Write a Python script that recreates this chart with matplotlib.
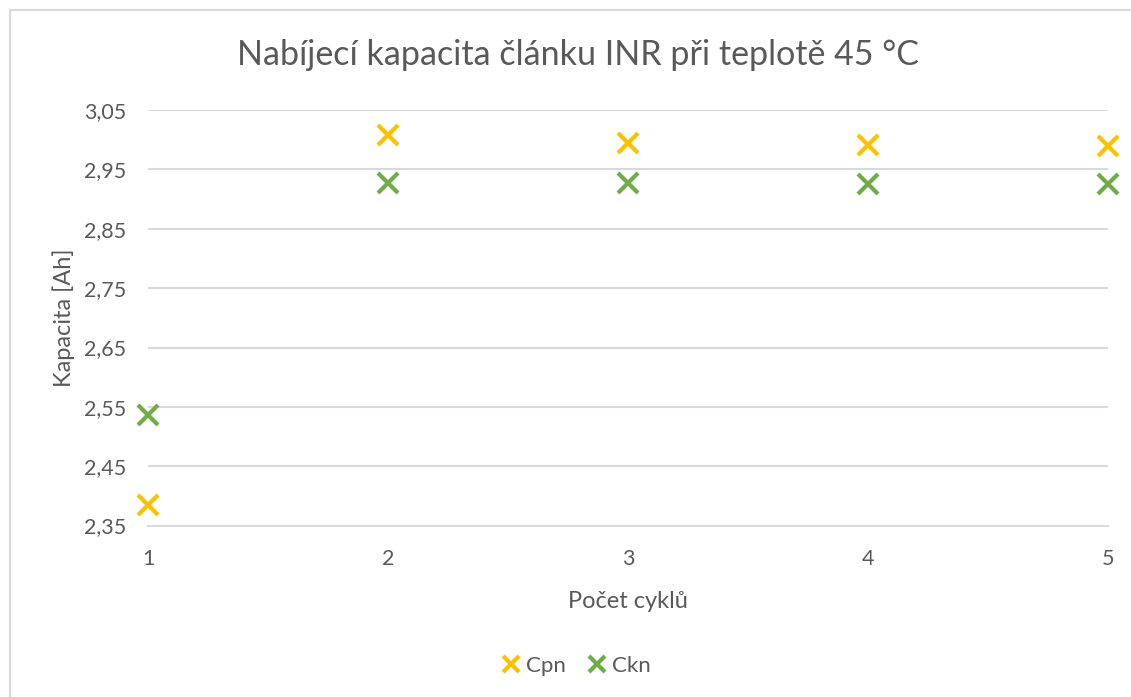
import matplotlib
matplotlib.use("Agg")
import matplotlib.pyplot as plt
from matplotlib.lines import Line2D
from matplotlib.ticker import FuncFormatter

cycles = [1, 2, 3, 4, 5]
cpn = [2.385, 3.008, 2.995, 2.991, 2.990]
ckn = [2.536, 2.927, 2.927, 2.926, 2.926]
y_ticks = [2.35, 2.45, 2.55, 2.65, 2.75, 2.85, 2.95, 3.05]

TEXT = "#595959"
GRID = "#D9D9D9"
plt.rcParams["font.family"] = ["Lato", "DejaVu Sans"]

fig = plt.figure(figsize=(11.31, 6.97), dpi=100)
ax = fig.add_axes([0.131, 0.246, 0.849, 0.596])

ax.plot(cycles, cpn, linestyle="none", marker="x", markersize=15,
        markeredgewidth=3, color="#FFC000", label="Cpn", clip_on=False, zorder=3)
ax.plot(cycles, ckn, linestyle="none", marker="x", markersize=15,
        markeredgewidth=3, color="#70AD47", label="Ckn", clip_on=False, zorder=3)

ax.set_xlim(1, 5)
ax.set_ylim(2.35, 3.05)
ax.set_xticks(cycles)
ax.set_yticks(y_ticks)
ax.yaxis.set_major_formatter(FuncFormatter(lambda v, p: f"{v:.2f}".replace(".", ",")))
ax.grid(axis="y", color=GRID, linewidth=1.5)
ax.set_axisbelow(True)
for side in ["top", "right", "left"]:
    ax.spines[side].set_visible(False)
ax.spines["bottom"].set_color(GRID)
ax.spines["bottom"].set_linewidth(1.5)
ax.tick_params(length=0, labelsize=15.5, colors=TEXT)
ax.tick_params(axis="x", pad=17)
ax.tick_params(axis="y", pad=16)

ax.set_xlabel("Počet cyklů", fontsize=17, color=TEXT, labelpad=16)
ax.set_ylabel("Kapacita [Ah]", fontsize=17, color=TEXT, labelpad=6)
fig.text(0.511, 0.921, "Nabíjecí kapacita článku INR při teplotě 45 °C",
         ha="center", va="center", fontsize=24.5, color=TEXT)

fig.legend(loc="center", bbox_to_anchor=(0.51, 0.045), ncol=2, frameon=False,
           fontsize=16, labelcolor=TEXT, handlelength=0.75, handletextpad=0.3,
           columnspacing=1.0, markerscale=0.8)

# chart border (top and left edges visible)
fig.add_artist(Line2D([10 / 1131, 1.0], [1 - 10 / 697, 1 - 10 / 697],
                      transform=fig.transFigure, color=GRID, linewidth=1.5))
fig.add_artist(Line2D([10 / 1131, 10 / 1131], [0.0, 1 - 10 / 697],
                      transform=fig.transFigure, color=GRID, linewidth=1.5))

fig.savefig("out.png", dpi=100, facecolor="white")
